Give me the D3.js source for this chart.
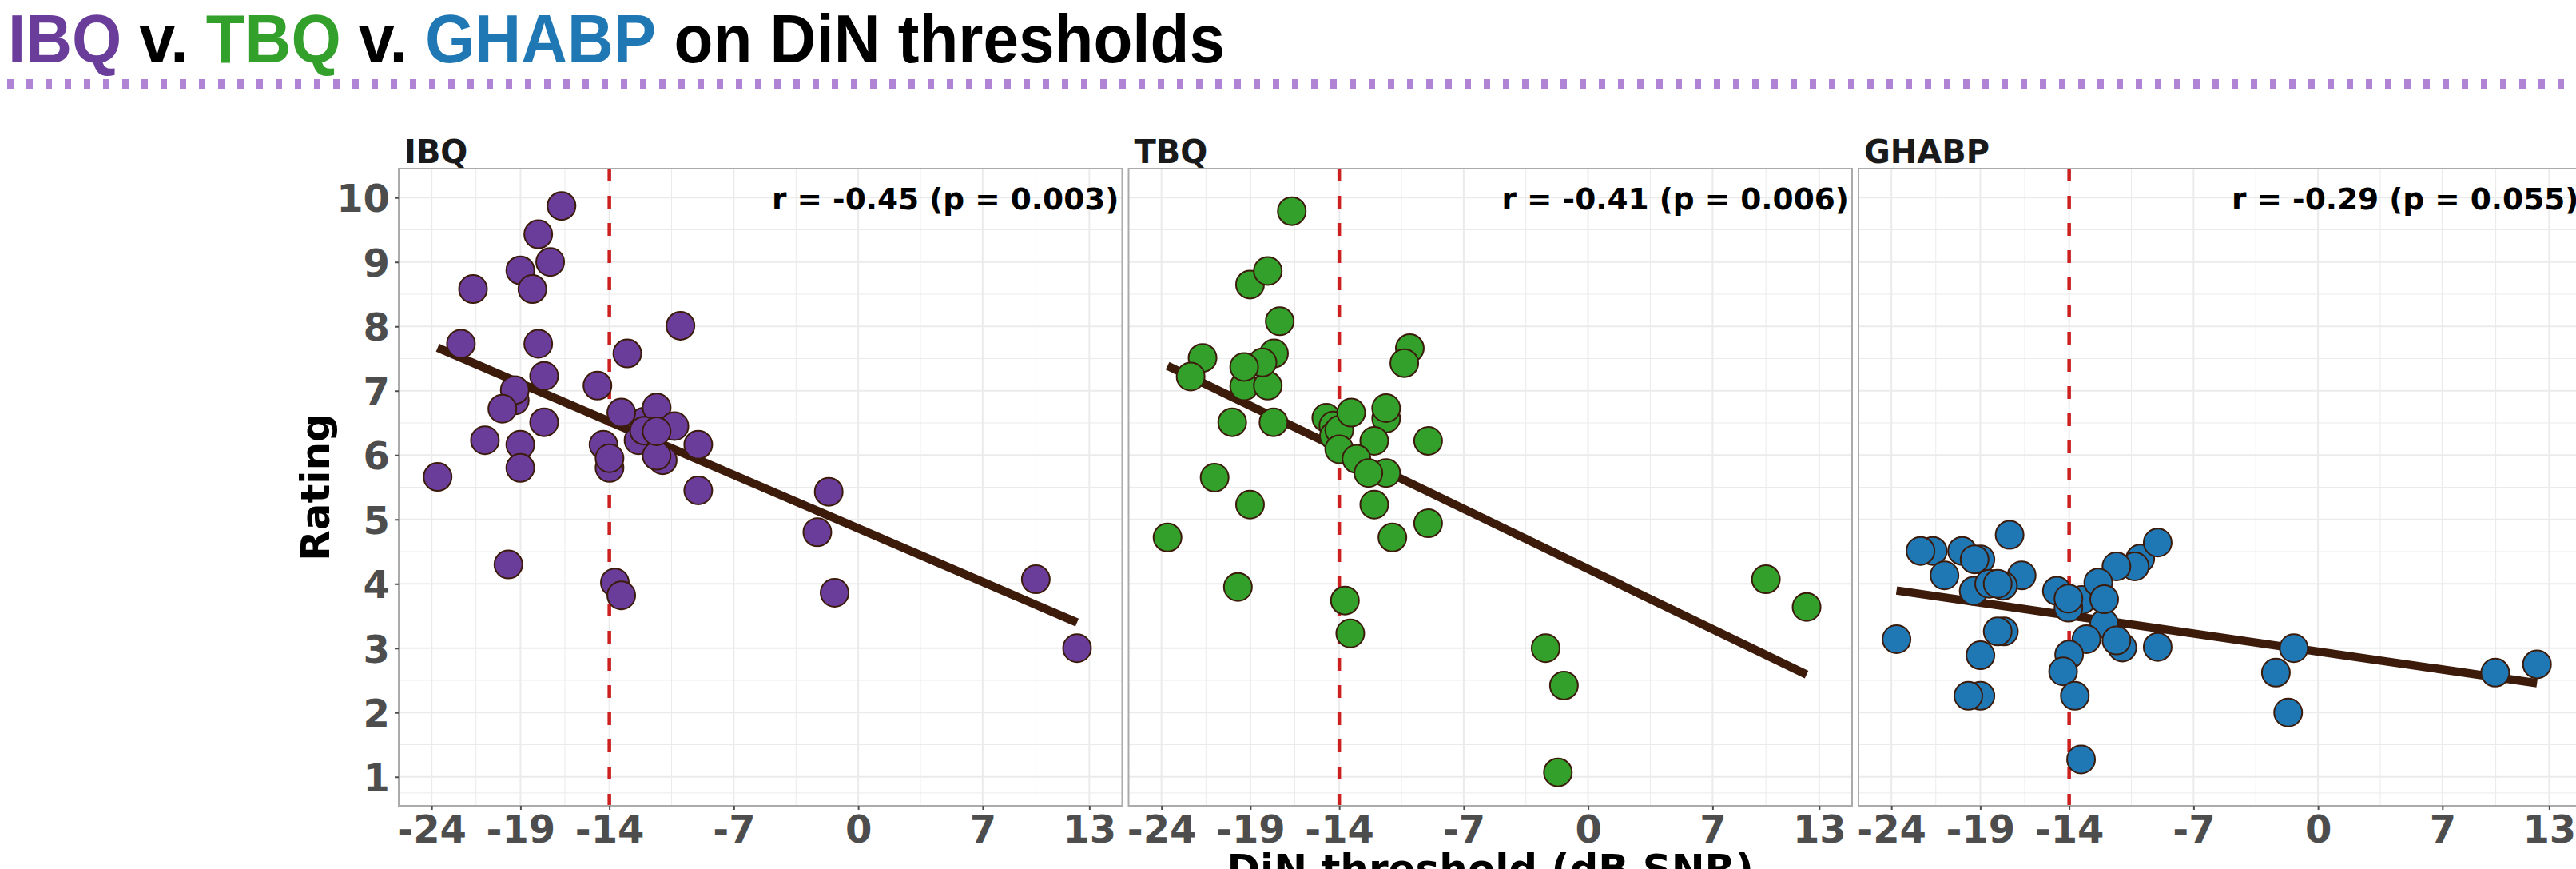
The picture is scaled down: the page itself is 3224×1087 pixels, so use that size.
<!DOCTYPE html>
<html>
<head>
<meta charset="utf-8">
<script src="https://cdn.jsdelivr.net/npm/d3@7"></script>
<style>
  body { margin: 0; background: #fff; }
  svg { display: block; }
</style>
</head>
<body>
<svg id="chart" width="3224" height="1087"></svg>
<script>
// facets and their colours
var facets = ["IBQ", "TBQ", "GHABP"];
var facetColors = ["#6a3d9a", "#33a02c", "#1f78b4"];
var corrLabels = ["r = -0.45 (p = 0.003)", "r = -0.41 (p = 0.006)", "r = -0.29 (p = 0.055)"];
var xTicks = [-24, -19, -14, -7, 0, 7, 13];
var yTicks = [1, 2, 3, 4, 5, 6, 7, 8, 9, 10];
var cutoff = -14;

// [DiN threshold, rating]
var ibqPoints = [
  [-16.69, 9.87], [-18.0, 9.43], [-17.33, 9.0], [-19.01, 8.87], [-18.33, 8.58], [-21.67, 8.58],
  [-10.0, 8.01], [-22.35, 7.73], [-18.0, 7.73], [-12.99, 7.58], [-17.67, 7.23], [-14.67, 7.08],
  [-19.32, 6.85], [-19.32, 7.01], [-20.02, 6.72], [-12.05, 6.52], [-11.34, 6.74], [-10.34, 6.45],
  [-12.36, 6.23], [-12.05, 6.38], [-11.0, 5.92], [-11.34, 5.99], [-11.34, 6.37], [-13.33, 6.66],
  [-17.67, 6.51], [-21.0, 6.23], [-19.01, 6.16], [-14.33, 6.16], [-13.99, 5.80], [-13.99, 5.95],
  [-9.0, 6.16], [-19.01, 5.80], [-23.66, 5.66], [-9.0, 5.45], [-19.68, 4.30], [-13.69, 4.02],
  [-13.33, 3.82], [-2.3, 4.80], [-1.66, 5.43], [-1.33, 3.86], [9.99, 4.07], [12.31, 3.0]
];
var tbqPoints = [
  [-16.67, 9.79], [-19.02, 8.65], [-18.02, 8.86], [-17.35, 8.08], [-10.03, 7.66], [-10.34, 7.43],
  [-21.69, 7.51], [-22.36, 7.22], [-17.67, 7.58], [-19.35, 7.07], [-18.02, 7.08], [-18.32, 7.44],
  [-19.35, 7.37], [-20.02, 6.51], [-17.7, 6.51], [-14.73, 6.58], [-14.33, 6.46], [-14.3, 6.30],
  [-14.0, 6.39], [-13.33, 6.66], [-14.0, 6.09], [-11.36, 6.57], [-11.36, 6.73], [-12.03, 6.22],
  [-9.0, 6.22], [-13.03, 5.94], [-11.36, 5.72], [-12.36, 5.72], [-12.03, 5.23], [-9.0, 4.94],
  [-11.01, 4.72], [-21.01, 5.65], [-19.02, 5.23], [-23.66, 4.72], [-19.7, 3.95], [-13.68, 3.74],
  [-13.38, 3.23], [-2.39, 3.0], [-1.36, 2.42], [-1.7, 1.07], [10.0, 4.07], [12.29, 3.64]
];
var ghabpPoints = [
  [-17.35, 4.76], [-10.0, 4.39], [-9.02, 4.64], [-10.31, 4.27], [-11.34, 4.27], [-21.67, 4.51],
  [-22.36, 4.51], [-18.99, 4.38], [-20.02, 4.51], [-19.32, 4.38], [-21.01, 4.13], [-16.67, 4.13],
  [-19.37, 3.89], [-17.72, 3.97], [-18.5, 4.0], [-18.02, 4.0], [-14.69, 3.89], [-13.29, 3.75],
  [-12.36, 4.02], [-14.04, 3.63], [-14.04, 3.77], [-12.03, 3.38], [-12.03, 3.76], [-23.71, 3.14],
  [-17.67, 3.26], [-18.02, 3.26], [-11.01, 3.01], [-11.34, 3.12], [-13.03, 3.14], [-9.02, 3.02],
  [-18.99, 2.89], [-14.0, 2.90], [-14.34, 2.64], [-18.99, 2.26], [-19.67, 2.26], [-13.68, 2.26],
  [-13.33, 1.27], [-1.36, 3.0], [-2.37, 2.62], [-1.68, 2.0], [9.97, 2.62], [12.32, 2.75]
];
var facetPoints = [ibqPoints, tbqPoints, ghabpPoints];

var svg = d3.select('#chart');
var font = "'DejaVu Sans', sans-serif";

// title, squeezed horizontally to the reference width (condensed look)
var titleParts = [['IBQ', facetColors[0]], [' v. ', '#000'], ['TBQ', facetColors[1]], [' v. ', '#000'],
                  ['GHABP', facetColors[2]], [' on DiN thresholds', '#000']];
var title = svg.append('text')
  .attr('x', 0).attr('y', 0)
  .attr('font-family', "'Liberation Sans', Arial, sans-serif")
  .attr('font-weight', 'bold').attr('font-size', 86);
titleParts.forEach(function (p) {
  title.append('tspan').attr('fill', p[1]).text(p[0]);
});
var natural = title.node().getComputedTextLength();
title.attr('transform', 'translate(10,78) scale(' + (1522 / natural) + ',1)');

// dotted rule under the title
svg.append('line')
  .attr('x1', 9).attr('x2', 3224).attr('y1', 105).attr('y2', 105)
  .attr('stroke', '#b083d4').attr('stroke-width', 12)
  .attr('stroke-dasharray', '8,16');

var panelTop = 211, panelBottom = 1008;
var panelLeft = 499, panelWidth = 905.5, panelStep = 913.5;

var y = d3.scaleLinear().domain([0.55, 10.45]).range([panelBottom, panelTop]);

function minorBreaks(ticks) {
  var out = [];
  for (var i = 0; i < ticks.length - 1; i++) out.push((ticks[i] + ticks[i + 1]) / 2);
  return out;
}

// least squares fit, like geom_smooth(method = "lm")
function fit(points) {
  var mx = d3.mean(points, function (d) { return d[0]; });
  var my = d3.mean(points, function (d) { return d[1]; });
  var sxy = d3.sum(points, function (d) { return (d[0] - mx) * (d[1] - my); });
  var sxx = d3.sum(points, function (d) { return (d[0] - mx) * (d[0] - mx); });
  var b = sxy / sxx;
  return function (x) { return my + b * (x - mx); };
}

facets.forEach(function (name, i) {
  var left = panelLeft + i * panelStep;
  var x = d3.scaleLinear().domain([-25.85, 14.85]).range([left, left + panelWidth]);
  var g = svg.append('g');
  var pts = facetPoints[i];

  // grid
  g.selectAll('.xminor').data(minorBreaks(xTicks)).enter().append('line')
    .attr('x1', x).attr('x2', x).attr('y1', panelTop).attr('y2', panelBottom)
    .attr('stroke', '#ebebeb').attr('stroke-width', 1);
  g.selectAll('.yminor').data(minorBreaks([0.5].concat(yTicks))).enter().append('line')
    .attr('x1', left).attr('x2', left + panelWidth).attr('y1', y).attr('y2', y)
    .attr('stroke', '#ebebeb').attr('stroke-width', 1);
  g.selectAll('.xmajor').data(xTicks).enter().append('line')
    .attr('x1', x).attr('x2', x).attr('y1', panelTop).attr('y2', panelBottom)
    .attr('stroke', '#ebebeb').attr('stroke-width', 2);
  g.selectAll('.ymajor').data(yTicks).enter().append('line')
    .attr('x1', left).attr('x2', left + panelWidth).attr('y1', y).attr('y2', y)
    .attr('stroke', '#ebebeb').attr('stroke-width', 2);

  // cutoff line
  g.append('line')
    .attr('x1', x(cutoff)).attr('x2', x(cutoff)).attr('y1', panelTop).attr('y2', panelBottom)
    .attr('stroke', '#cc1f1f').attr('stroke-width', 4.5).attr('stroke-dasharray', '16,18');

  // regression line over the data range
  var f = fit(pts);
  var xr = d3.extent(pts, function (d) { return d[0]; });
  g.append('line')
    .attr('x1', x(xr[0])).attr('y1', y(f(xr[0])))
    .attr('x2', x(xr[1])).attr('y2', y(f(xr[1])))
    .attr('stroke', '#3c1b0b').attr('stroke-width', 10.5);

  // points
  g.selectAll('circle').data(pts).enter().append('circle')
    .attr('cx', function (d) { return x(d[0]); })
    .attr('cy', function (d) { return y(d[1]); })
    .attr('r', 17.5)
    .attr('fill', facetColors[i])
    .attr('stroke', '#3c1b0b').attr('stroke-width', 2);

  // panel border
  g.append('rect')
    .attr('x', left).attr('y', panelTop).attr('width', panelWidth).attr('height', panelBottom - panelTop)
    .attr('fill', 'none').attr('stroke', '#ababab').attr('stroke-width', 2);

  // correlation label
  g.append('text')
    .attr('x', left + panelWidth - 4).attr('y', y(10) + 14.5)
    .attr('text-anchor', 'end')
    .attr('font-family', font).attr('font-weight', 'bold').attr('font-size', 37.5)
    .attr('fill', '#000').text(corrLabels[i]);

  // strip label
  g.append('text')
    .attr('x', left + 7).attr('y', 204)
    .attr('font-family', font).attr('font-weight', 'bold').attr('font-size', 40)
    .attr('fill', '#1a1a1a').text(name);

  // x axis
  var xAxis = g.append('g').attr('transform', 'translate(0,' + panelBottom + ')')
    .call(d3.axisBottom(x).tickValues(xTicks).tickSize(5).tickPadding(5).tickFormat(d3.format('d')));
  xAxis.select('.domain').remove();
  xAxis.selectAll('line').attr('stroke', '#4d4d4d').attr('stroke-width', 2);
  xAxis.selectAll('text')
    .attr('font-family', font).attr('font-weight', 'bold').attr('font-size', 48)
    .attr('fill', '#4d4d4d').attr('dy', '0.76em')
    .text(function (d) { return d < 0 ? '-' + Math.abs(d) : d; });

  if (i === 0) {
    var yAxis = g.append('g').attr('transform', 'translate(' + left + ',0)')
      .call(d3.axisLeft(y).tickValues(yTicks).tickSize(5).tickPadding(6));
    yAxis.select('.domain').remove();
    yAxis.selectAll('line').attr('stroke', '#4d4d4d').attr('stroke-width', 2);
    yAxis.selectAll('text')
      .attr('font-family', font).attr('font-weight', 'bold').attr('font-size', 48)
      .attr('fill', '#4d4d4d').attr('dy', '0.36em');
  }
});

// axis titles
svg.append('text')
  .attr('transform', 'translate(412,' + (panelTop + panelBottom) / 2 + ') rotate(-90)')
  .attr('text-anchor', 'middle')
  .attr('font-family', font).attr('font-weight', 'bold').attr('font-size', 50)
  .attr('fill', '#000').text('Rating');

svg.append('text')
  .attr('x', (panelLeft + panelLeft + 2 * panelStep + panelWidth) / 2).attr('y', 1104)
  .attr('text-anchor', 'middle')
  .attr('font-family', font).attr('font-weight', 'bold').attr('font-size', 50)
  .attr('fill', '#000').text('DiN threshold (dB SNR)');
</script>
</body>
</html>
